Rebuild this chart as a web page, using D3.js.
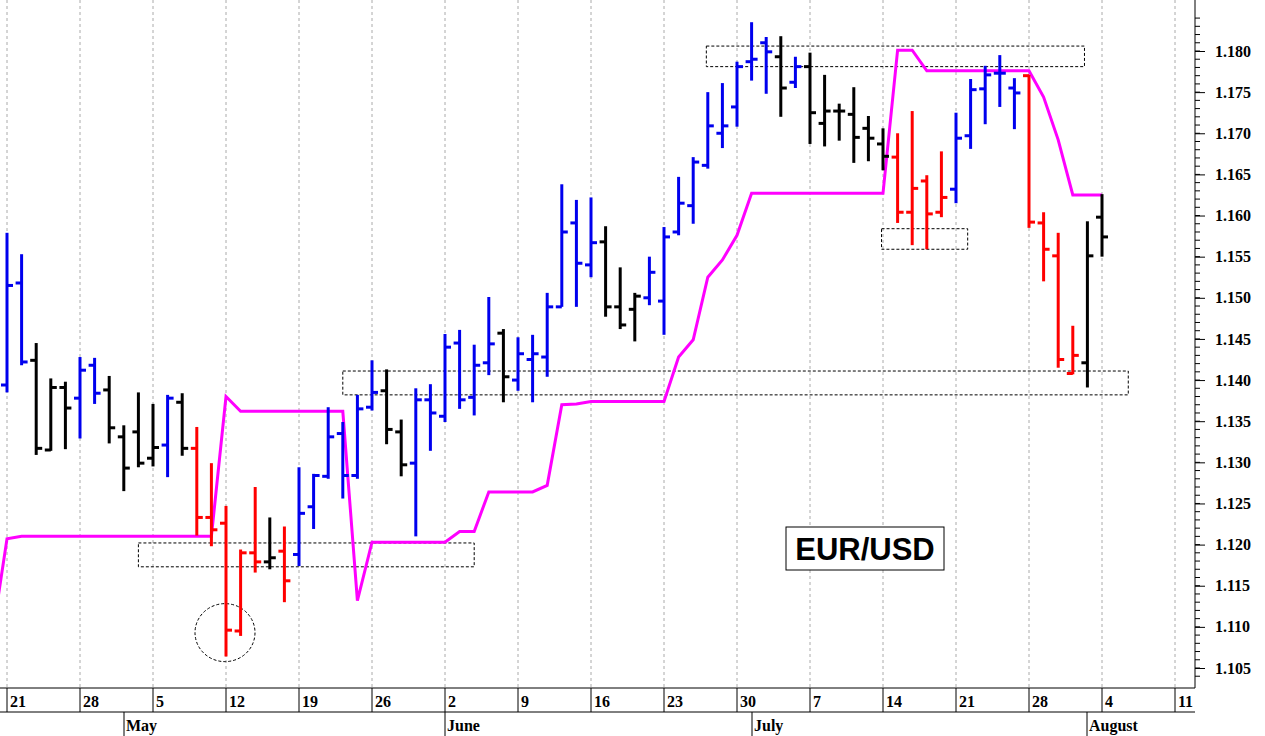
<!DOCTYPE html>
<html><head><meta charset="utf-8">
<script src="https://cdn.jsdelivr.net/npm/d3@7"></script>
<style>body{margin:0;background:#fff}svg{display:block}</style>
</head><body><svg id="c" width="1265" height="736"></svg>
<script>
// Daily OHLC bars, trading days from Mon 21 Apr 2025
const highs=[1.1579,1.1553,1.1445,1.1402,1.1398,1.1428,1.1427,1.1405,1.1345,1.1385,1.1371,1.1382,1.1384,1.1343,1.1299,1.1247,1.1194,1.1270,1.1233,1.1222,1.1294,1.1286,1.1367,1.1349,1.1382,1.1424,1.1413,1.1352,1.1390,1.1395,1.1456,1.1461,1.1443,1.1501,1.1462,1.1452,1.1455,1.1506,1.1638,1.1619,1.1622,1.1587,1.1537,1.1506,1.1550,1.1586,1.1647,1.1671,1.1750,1.1761,1.1787,1.1835,1.1817,1.1818,1.1793,1.1798,1.1771,1.1736,1.1756,1.1721,1.1706,1.1700,1.1727,1.1649,1.1678,1.1725,1.1766,1.1782,1.1795,1.1767,1.1771,1.1604,1.1579,1.1466,1.1593,1.1626];
const lows=[1.1385,1.1418,1.1309,1.1314,1.1316,1.1329,1.1371,1.1323,1.1265,1.1294,1.1295,1.1282,1.1308,1.1211,1.1198,1.1064,1.1089,1.1166,1.1170,1.1130,1.1174,1.1219,1.1280,1.1256,1.1280,1.1363,1.1322,1.1283,1.1210,1.1314,1.1349,1.1365,1.1357,1.1406,1.1373,1.1387,1.1373,1.1404,1.1489,1.1489,1.1525,1.1477,1.1462,1.1447,1.1491,1.1455,1.1576,1.1590,1.1657,1.1682,1.1708,1.1764,1.1748,1.1720,1.1755,1.1687,1.1684,1.1691,1.1664,1.1666,1.1655,1.1591,1.1564,1.1559,1.1598,1.1615,1.1681,1.1711,1.1732,1.1705,1.1585,1.1520,1.1415,1.1407,1.1391,1.1550];
const opens=[1.1394,1.1518,1.1424,1.1315,1.1391,1.1378,1.1418,1.1388,1.1331,1.1337,1.1305,1.1321,1.1373,1.1317,1.1233,1.1226,1.1095,1.1190,1.1179,1.1192,1.1188,1.1246,1.1283,1.1335,1.1284,1.1367,1.1387,1.1337,1.1299,1.1376,1.1356,1.1445,1.1379,1.1421,1.1457,1.1400,1.1425,1.1428,1.1489,1.1591,1.1540,1.1568,1.1489,1.1486,1.1500,1.1496,1.1580,1.1612,1.1661,1.1700,1.1732,1.1787,1.1810,1.1793,1.1762,1.1781,1.1712,1.1727,1.1723,1.1706,1.1687,1.1671,1.1604,1.1642,1.1604,1.1632,1.1697,1.1754,1.1773,1.1755,1.1770,1.1591,1.1551,1.1408,1.1421,1.1598];
const closes=[1.1515,1.1422,1.1317,1.1391,1.1366,1.1412,1.1384,1.1342,1.1293,1.1299,1.1318,1.1378,1.1317,1.1233,1.1218,1.1096,1.1190,1.1179,1.1184,1.1156,1.1238,1.1284,1.1331,1.1284,1.1365,1.1385,1.1340,1.1297,1.1376,1.1360,1.1440,1.1376,1.1418,1.1444,1.1404,1.1432,1.1432,1.1489,1.1580,1.1542,1.1567,1.1489,1.1467,1.1502,1.1531,1.1574,1.1615,1.1665,1.1709,1.1709,1.1781,1.1790,1.1799,1.1755,1.1781,1.1725,1.1727,1.1727,1.1695,1.1694,1.1672,1.1604,1.1633,1.1602,1.1622,1.1694,1.1753,1.1771,1.1773,1.1749,1.1592,1.1559,1.1425,1.1430,1.1551,1.1574];
const barColors="bbkkkbbkkkkbkrrrrrkrbbbbbbkkbbbbbbkbbbbbbkkkbbbbbbbbbkbkkkkkkrrrrbbbbbrrrrkk".split("");
// stop line, index -1 .. 75
const stopLine=[1.1090,1.1207,1.1210,1.1210,1.1210,1.1210,1.1210,1.1210,1.1210,1.1210,1.1210,1.1210,1.1210,1.1210,1.1210,1.1210,1.1380,1.1362,1.1362,1.1362,1.1362,1.1362,1.1362,1.1362,1.1362,1.1132,1.1203,1.1203,1.1203,1.1203,1.1203,1.1203,1.1216,1.1216,1.1264,1.1264,1.1264,1.1264,1.1272,1.1370,1.1371,1.1374,1.1374,1.1374,1.1374,1.1374,1.1374,1.1428,1.1449,1.1525,1.1546,1.1576,1.1627,1.1627,1.1627,1.1627,1.1627,1.1627,1.1627,1.1627,1.1627,1.1627,1.1801,1.1801,1.1776,1.1776,1.1776,1.1776,1.1776,1.1776,1.1776,1.1776,1.1744,1.1692,1.1625,1.1625,1.1625];
const weekLabels=["21","28","5","12","19","26","2","9","16","23","30","7","14","21","28","4","11"];
const monthLabels=[{name:"May",day:8},{name:"June",day:30},{name:"July",day:51},{name:"August",day:74}];
const priceTicks=[1.105,1.110,1.115,1.120,1.125,1.130,1.135,1.140,1.145,1.150,1.155,1.160,1.165,1.170,1.175,1.180];
// annotation boxes [startIdx,endIdx,top,bottom]
const boxes=[[9.0,32.0,1.1202,1.1173],[23.0,76.8,1.1411,1.1382],[47.9,73.8,1.1806,1.1781],[59.9,65.8,1.1584,1.1559]];
const circle={idx:15,price:1.1093};

const svg=d3.select("#c");
const plotR=1195, plotB=688;
const x=d3.scaleLinear().domain([0,75]).range([7,7+75*14.6]);
const y=d3.scaleLinear().domain([1.105,1.180]).range([668,51]);
const colMap={b:"#0000ee",k:"#000000",r:"#ff0000"};
const serif="'Liberation Serif','Times New Roman',serif";

// gridlines
weekLabels.forEach((w,i)=>{
  const xx=x(i*5);
  svg.append("line").attr("x1",xx).attr("x2",xx).attr("y1",0).attr("y2",plotB)
    .attr("stroke","#aaa").attr("stroke-dasharray","3,3").attr("stroke-width",1);
});
// boxes
boxes.forEach(b=>{
  svg.append("rect").attr("x",x(b[0])).attr("y",y(b[2])).attr("width",x(b[1])-x(b[0])).attr("height",y(b[3])-y(b[2]))
   .attr("fill","none").attr("stroke","#000").attr("stroke-dasharray","3,2").attr("stroke-width",1);
});
svg.append("ellipse").attr("cx",x(circle.idx)-1).attr("cy",y(circle.price)).attr("rx",30).attr("ry",29)
  .attr("fill","none").attr("stroke","#000").attr("stroke-dasharray","3,2");

// stop line
const line=d3.line().x((d,i)=>x(i-1)).y(d=>y(d));
const clip=svg.append("clipPath").attr("id","cp").append("rect").attr("x",0).attr("y",0).attr("width",plotR).attr("height",plotB);
svg.append("path").datum(stopLine).attr("d",line).attr("fill","none").attr("stroke","#ff00ff").attr("stroke-width",3).attr("clip-path","url(#cp)");

// bars
const g=svg.append("g");
highs.forEach((h,i)=>{
  const c=colMap[barColors[i]], xx=x(i);
  g.append("line").attr("x1",xx).attr("x2",xx).attr("y1",y(h)).attr("y2",y(lows[i])).attr("stroke",c).attr("stroke-width",3);
  g.append("line").attr("x1",xx-6).attr("x2",xx).attr("y1",y(opens[i])).attr("y2",y(opens[i])).attr("stroke",c).attr("stroke-width",3);
  g.append("line").attr("x1",xx).attr("x2",xx+6).attr("y1",y(closes[i])).attr("y2",y(closes[i])).attr("stroke",c).attr("stroke-width",3);
});

// label box
svg.append("rect").attr("x",786).attr("y",527).attr("width",158).attr("height",43).attr("fill","#fff").attr("stroke","#000");
svg.append("text").attr("x",865).attr("y",560).attr("text-anchor","middle").attr("font-family","'Liberation Sans',Arial,sans-serif")
  .attr("font-weight","bold").attr("font-size",31).text("EUR/USD");

// right axis
svg.append("line").attr("x1",plotR).attr("x2",plotR).attr("y1",0).attr("y2",plotB).attr("stroke","#000");
const minor=d3.range(1104,1185).map(v=>v/1000);
minor.forEach(v=>{const yy=y(v); if(yy<0||yy>plotB)return;
  svg.append("line").attr("x1",plotR).attr("x2",plotR+5).attr("y1",yy).attr("y2",yy).attr("stroke","#000");});
const ax=svg.append("g").attr("transform",`translate(${plotR},0)`).call(d3.axisRight(y).tickValues(priceTicks).tickSize(10).tickFormat(d3.format(".3f")));
ax.select(".domain").remove();
ax.selectAll("text").attr("font-family",serif).attr("font-weight","bold").attr("font-size",16).attr("x",20).attr("fill","#000");

// bottom axis
svg.append("line").attr("x1",0).attr("x2",plotR).attr("y1",plotB).attr("y2",plotB).attr("stroke","#000");
svg.append("line").attr("x1",0).attr("x2",plotR).attr("y1",712).attr("y2",712).attr("stroke","#000");
weekLabels.forEach((w,i)=>{
  const xx=Math.round(x(i*5));
  svg.append("line").attr("x1",xx).attr("x2",xx).attr("y1",plotB).attr("y2",712).attr("stroke","#000");
  svg.append("text").attr("x",xx+3).attr("y",707).attr("font-family",serif).attr("font-weight","bold").attr("font-size",16).text(w);
});
monthLabels.forEach(m=>{
  const xx=Math.round(x(m.day));
  svg.append("line").attr("x1",xx).attr("x2",xx).attr("y1",712).attr("y2",736).attr("stroke","#000");
  svg.append("text").attr("x",xx+2).attr("y",731).attr("font-family",serif).attr("font-weight","bold").attr("font-size",16).text(m.name);
});
</script></body></html>
